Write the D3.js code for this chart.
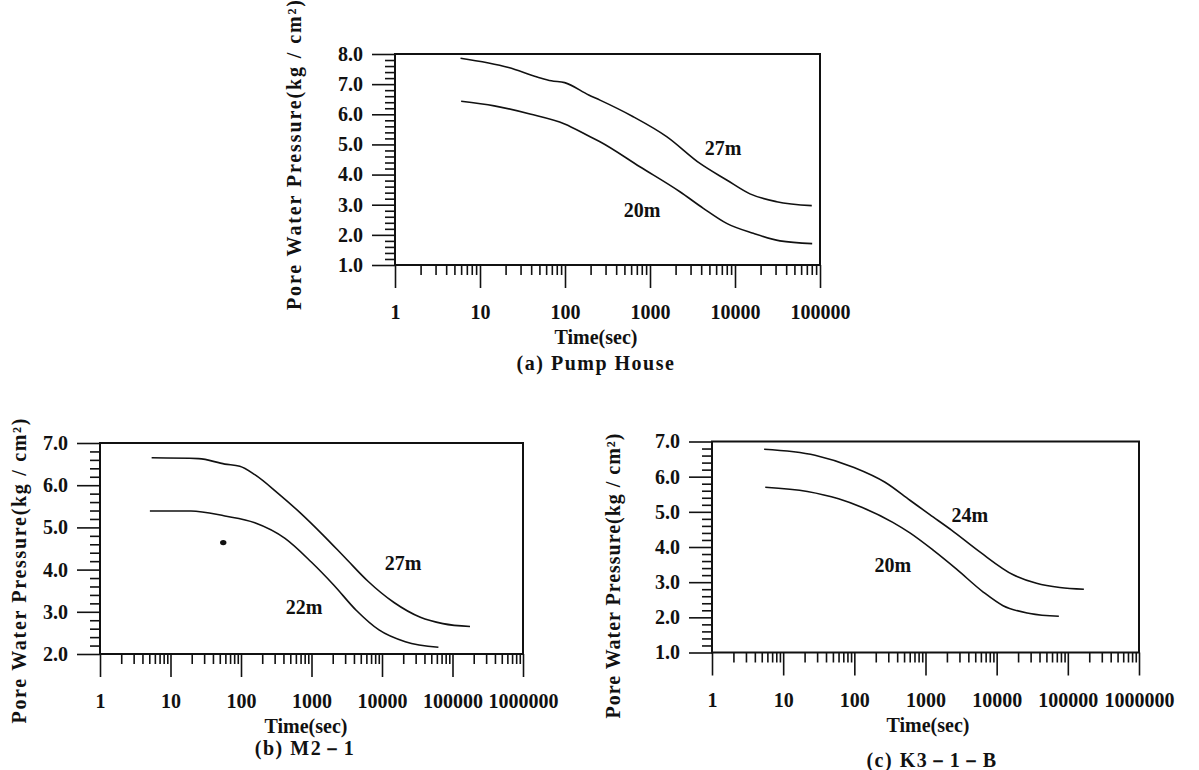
<!DOCTYPE html>
<html>
<head>
<meta charset="utf-8">
<script src="https://cdn.jsdelivr.net/npm/d3@7"></script>
<style>
  html, body { margin: 0; padding: 0; background: #fff; }
  svg text { font-family: "Liberation Serif", "DejaVu Serif", serif; font-weight: bold; fill: #111; }
</style>
</head>
<body>
<div id="chart"></div>
<script>
// (a) Pump House
const pumpTime27 = [5.9, 21.7, 47, 69, 99, 190, 258, 635, 1570, 3870, 7980, 15000, 30900, 80000];
const pumpPress27 = [7.86, 7.55, 7.24, 7.11, 7.05, 6.64, 6.47, 5.92, 5.26, 4.37, 3.82, 3.36, 3.10, 2.97];
const pumpTime20 = [6.0, 14.7, 38.7, 99, 190, 258, 760, 2250, 4240, 7980, 16400, 33800, 80900];
const pumpPress20 = [6.43, 6.28, 6.01, 5.68, 5.28, 5.09, 4.26, 3.43, 2.88, 2.38, 2.05, 1.80, 1.71];

// (b) M2-1
const m2Time27 = [5.4, 25, 59, 96, 157, 329, 687, 1437, 3000, 6270, 14800, 35000, 73100, 177000];
const m2Press27 = [6.65, 6.63, 6.50, 6.45, 6.25, 5.82, 5.35, 4.83, 4.28, 3.73, 3.22, 2.87, 2.72, 2.65];
const m2Time22 = [5.1, 19.5, 59, 157, 421, 993, 2080, 4340, 9060, 21400, 63100];
const m2Press22 = [5.39, 5.39, 5.27, 5.11, 4.74, 4.18, 3.63, 3.03, 2.57, 2.29, 2.16];
const m2Stray = [[56, 4.64]];

// (c) K3-1-B
const k3Time24 = [5.4, 28, 99, 270, 604, 1150, 2320, 5800, 17100, 36300, 77200, 168000];
const k3Press24 = [6.78, 6.61, 6.26, 5.84, 5.33, 4.92, 4.48, 3.86, 3.21, 2.97, 2.85, 2.80];
const k3Time20 = [5.6, 21.9, 60, 127, 347, 604, 1280, 2730, 6470, 12300, 29300, 74800];
const k3Press20 = [5.70, 5.58, 5.37, 5.13, 4.70, 4.40, 3.91, 3.37, 2.72, 2.33, 2.11, 2.03];

const yTicksA = [1, 2, 3, 4, 5, 6, 7, 8];
const yTicksB = [2, 3, 4, 5, 6, 7];
const yTicksC = [1, 2, 3, 4, 5, 6, 7];
const xTicksA = [1, 10, 100, 1000, 10000, 100000];
const xTicksBC = [1, 10, 100, 1000, 10000, 100000, 1000000];

const yTitle = "Pore Water Pressure(kg / cm²)";

const panels = [
  {
    caption: "(a) Pump House",
    xDomain: [1, 1e5], xRange: [395, 820],
    yDomain: [1, 8], yRange: [265, 54],
    xTicks: xTicksA, yTicks: yTicksA,
    series: [
      { name: "27m", t: pumpTime27, p: pumpPress27, label: [7230, 4.88] },
      { name: "20m", t: pumpTime20, p: pumpPress20, label: [805, 2.82] }
    ],
    titleX: 596, captionX: 596, captionDy: 105,
    yTitlePos: [294, 155], yTitleLen: 310
  },
  {
    caption: "(b) M2－1",
    xDomain: [1, 1e6], xRange: [100, 523],
    yDomain: [2, 7], yRange: [654, 443],
    xTicks: xTicksBC, yTicks: yTicksB,
    series: [
      { name: "27m", t: m2Time27, p: m2Press27, label: [19900, 4.16] },
      { name: "22m", t: m2Time22, p: m2Press22, label: [783, 3.11] }
    ],
    dots: m2Stray,
    titleX: 306, captionX: 305, captionDy: 101,
    yTitlePos: [19, 571], yTitleLen: 305
  },
  {
    caption: "(c) K3－1－B",
    xDomain: [1, 1e6], xRange: [712, 1139],
    yDomain: [1, 7], yRange: [652.5, 441.5],
    xTicks: xTicksBC, yTicks: yTicksC,
    series: [
      { name: "24m", t: k3Time24, p: k3Press24, label: [4200, 4.91] },
      { name: "20m", t: k3Time20, p: k3Press20, label: [348, 3.49] }
    ],
    titleX: 928, captionX: 932, captionDy: 114,
    yTitlePos: [613, 576], yTitleLen: 285
  }
];

const width = 1199, height = 770;
const svg = d3.select("#chart").append("svg")
  .attr("width", width).attr("height", height)
  .attr("viewBox", [0, 0, width, height]);

panels.forEach((cfg) => {
  const x = d3.scaleLog().domain(cfg.xDomain).range(cfg.xRange);
  const y = d3.scaleLinear().domain(cfg.yDomain).range(cfg.yRange);
  const [xl, xr] = cfg.xRange;
  const [yb, yt] = cfg.yRange;
  const g = svg.append("g");

  // minor x ticks (2..9 in each decade)
  const minorX = [];
  cfg.xTicks.slice(0, -1).forEach((d) => { for (let m = 2; m <= 9; m++) minorX.push(d * m); });

  // minor y ticks every 0.2
  const minorY = d3.range(cfg.yDomain[0], cfg.yDomain[1] + 0.001, 0.2)
    .filter((v) => Math.abs(v - Math.round(v)) > 0.01);

  const xAxis = d3.axisBottom(x).tickValues(cfg.xTicks).tickSize(23).tickPadding(17)
    .tickFormat(d3.format("d"));
  const xAxisMinor = d3.axisBottom(x).tickValues(minorX).tickSize(10).tickFormat("");
  const yAxis = d3.axisLeft(y).tickValues(cfg.yTicks).tickSize(23).tickPadding(9)
    .tickFormat(d3.format(".1f"));
  const yAxisMinor = d3.axisLeft(y).tickValues(minorY).tickSize(10).tickFormat("");

  const style = (sel) => {
    sel.select(".domain").remove();
    sel.selectAll("line").attr("stroke", "#111").attr("stroke-width", 1.6);
    sel.selectAll("text").style("font-size", "20px").attr("fill", "#111");
  };

  g.append("g").attr("transform", `translate(0,${yb})`).call(xAxisMinor).call(style);
  g.append("g").attr("transform", `translate(0,${yb})`).call(xAxis).call(style);
  g.append("g").attr("transform", `translate(${xl},0)`).call(yAxisMinor).call(style);
  g.append("g").attr("transform", `translate(${xl},0)`).call(yAxis).call(style);

  // frame
  g.append("rect")
    .attr("x", xl).attr("y", yt)
    .attr("width", xr - xl).attr("height", yb - yt)
    .attr("fill", "none").attr("stroke", "#111").attr("stroke-width", 2);

  const line = d3.line()
    .x((d) => x(d[0]))
    .y((d) => y(d[1]))
    .curve(d3.curveMonotoneX);

  cfg.series.forEach((s) => {
    const pts = s.t.map((t, i) => [t, s.p[i]]);
    g.append("path")
      .datum(pts)
      .attr("d", line)
      .attr("fill", "none")
      .attr("stroke", "#111")
      .attr("stroke-width", 1.6);
    g.append("text")
      .attr("x", x(s.label[0]))
      .attr("y", y(s.label[1]))
      .attr("dy", "0.35em")
      .attr("text-anchor", "middle")
      .style("font-size", "20px")
      .text(s.name);
  });

  if (cfg.dots) {
    g.selectAll("ellipse.dot").data(cfg.dots).join("ellipse")
      .attr("cx", (d) => x(d[0])).attr("cy", (d) => y(d[1]))
      .attr("rx", 3.2).attr("ry", 2.6).attr("fill", "#111");
  }

  g.append("text")
    .attr("x", cfg.titleX).attr("y", yb + 79)
    .attr("text-anchor", "middle")
    .style("font-size", "20px")
    .text("Time(sec)");

  g.append("text")
    .attr("x", cfg.captionX).attr("y", yb + cfg.captionDy)
    .attr("text-anchor", "middle")
    .style("font-size", "20px")
    .style("letter-spacing", "1.5px")
    .text(cfg.caption);

  g.append("text")
    .attr("transform", `translate(${cfg.yTitlePos[0]},${cfg.yTitlePos[1]}) rotate(-90)`)
    .attr("dy", "0.35em")
    .attr("text-anchor", "middle")
    .attr("textLength", cfg.yTitleLen)
    .attr("lengthAdjust", "spacing")
    .style("font-size", "20px")
    .text(yTitle);
});
</script>
</body>
</html>
